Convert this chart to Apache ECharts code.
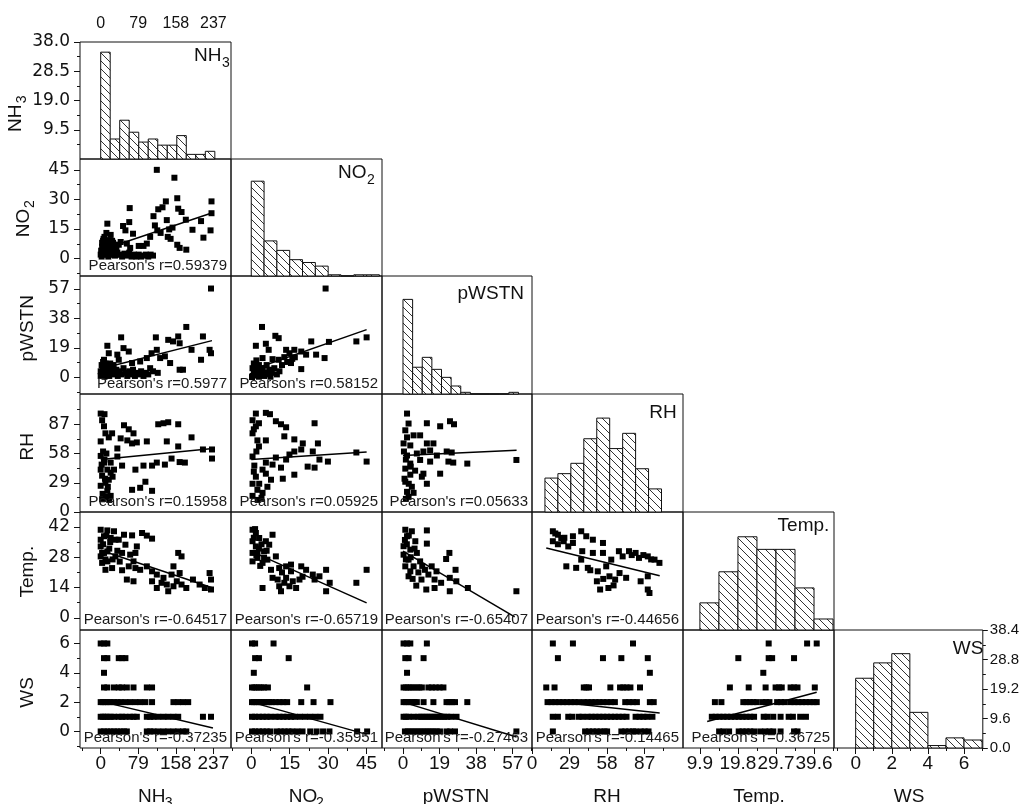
<!DOCTYPE html>
<html><head><meta charset="utf-8">
<script src="https://cdn.jsdelivr.net/npm/echarts@6/dist/echarts.min.js"></script>
<style>html,body{margin:0;padding:0;background:#fff}#c{width:1022px;height:804px}</style>
</head><body><div id="c"></div>
<script>
// ---------------- DATA ----------------
const variableNames = ['NH3','NO2','pWSTN','RH','Temp.','WS'];

// histogram bin edges and heights (percent)
const nh3Edges = [0,20,40,60,80,100,120,140,160,180,200,220,240];
const nh3Hist  = [34.7,6.5,12.6,8.7,5.5,6.5,4.5,4.5,7.6,1.5,1.5,2.5];
const no2Edges = [0,5,10,15,20,25,30,35,40,45,50];
const no2Hist  = [47,17.4,12.7,8.1,6.7,4.9,0.6,0,0.6,0.6];
const pwstnEdges = [0,5,10,15,20,25,30,35,40,45,50,55,60];
const pwstnHist  = [44.9,12.7,17.4,11.7,7.9,3.8,0.8,0,0,0,0,0.8];
const rhEdges = [10,20,30,40,50,60,70,80,90,100];
const rhHist  = [6.9,7.8,9.9,14.9,19.1,12.9,16,8.8,4.7];
const tempEdges = [9.9,14.85,19.8,24.75,29.7,34.65,39.6,44.55];
const tempHist  = [6.9,14.8,23.7,20.5,20.5,10.7,2.8];
const wsEdges = [0,1,2,3,4,5,6,7];
const wsHist  = [22.7,27.7,30.7,11.6,0.8,3.3,2.6];
const histMax = [38,58,56,24,30,38.4];

// scatter points per panel [x, y]
const nh3_no2 = [[118,45],[155,41],[61,25.6],[137,29],[161,30.6],[233,29],[233,23],[111,21.5],[121,25],[130,26],[163,25.3],[170,23.6],[14,17.7],[47,16.5],[60,18.5],[52,14.3],[68,12.6],[139,19.5],[114,16.8],[119,14.3],[126,13],[144,14.8],[151,15.7],[179,19.7],[193,14.6],[211,19],[216,10.6],[231,14.3],[104,11],[97,7.6],[141,11],[147,10],[161,7],[166,5.4],[180,4.5],[21,12],[19,9.3],[42,8.4],[55,7.6],[62,5.4],[80,6.4],[90,6.4],[2,1],[4,3],[6,5],[8,7],[10,2],[12,4],[3,6],[14,8],[16,1],[18,3],[5,9],[20,5],[22,2],[25,6],[8,11],[12,13],[28,4],[30,1.5],[35,3],[40,2],[45,1],[50,2.5],[55,1.5],[60,3],[65,1],[70,2],[75,1],[80,2],[85,1],[90,1.5],[95,2],[100,1],[105,2],[110,1.5],[1,4],[7,2],[15,6],[24,9],[33,5],[38,7],[0,2],[3,8],[6,10],[9,5],[11,9],[13,3],[17,6],[19,2],[23,4],[26,8],[29,7],[32,2]];
const nh3_pwstn = [[232,57.2],[180,32.5],[215,26.4],[43,25.8],[116,25.8],[163,26.4],[142,24.2],[152,23.2],[166,22],[229,17.8],[232,15.6],[191,17.8],[211,11.4],[166,5],[173,5],[146,9.3],[135,13.6],[125,12.5],[118,17.8],[107,15.6],[97,12.5],[83,10.3],[104,6],[14,20.4],[17,15.6],[48,18.9],[59,16.7],[35,14.7],[7,11.4],[38,11.4],[66,9.3],[0,1],[3,3],[6,5],[9,2],[12,7],[15,4],[18,1],[21,6],[24,3],[27,8],[30,2],[33,5],[36,1],[40,4],[44,2],[48,6],[52,3],[56,1],[60,4],[64,2],[68,5],[72,1],[76,3],[80,2],[85,4],[90,1],[95,3],[100,2],[2,8],[5,10],[10,9],[4,6],[8,0.5],[16,2],[20,9],[28,5],[0,4],[110,4],[120,3]];
const no2_pwstn = [[29,57.2],[4.2,32.5],[9.4,26.8],[10.7,25.3],[5.7,21.7],[1.8,20.4],[6.8,17.8],[23.4,23.2],[30.3,22.9],[41,23.2],[45,25.8],[28.6,12.5],[25.3,14.7],[19.5,16.7],[16.8,17.8],[14.9,15.6],[12.9,13.1],[10.7,11.4],[15.5,9.3],[19.5,5.4],[21.4,14.7],[8.3,11.8],[13.6,17.8],[4.4,12.5],[0.5,1],[1,3],[1.5,5],[2,2],[2.5,7],[3,0.5],[3.5,4],[4,2],[4.5,6],[5,1],[5.5,3],[6,8],[6.5,2],[7,5],[7.5,0.5],[8,3],[9,6],[10,2],[11,4],[0.5,6],[1,9],[2,11],[3,8],[12,8],[14,10],[16,12],[17,13],[0.3,0.3],[1.2,1.5]];
const nh3_rh = [[0,97.6],[8,97],[3,91],[7,85],[10,78],[0,70],[17,74],[24,78],[49,86],[59,82],[69,78],[76,69],[66,68],[56,71],[42,73],[35,63],[97,70],[121,87],[132,88],[142,89],[163,87],[191,74],[139,70],[163,65],[215,62],[234,62],[234,53],[177,49],[166,49.5],[149,53],[135,47],[118,49],[108,46],[90,46],[73,42],[45,46],[35,55],[94,30],[83,24],[66,22],[108,21],[0,55.6],[7,49],[14,42],[3,36],[21,39],[10,29],[0,26],[14,21],[21,16],[3,12.6],[28,42],[8,52],[21,49],[0,42],[17,32],[5,60],[12,58],[2,47],[9,33],[15,25],[4,18],[11,15],[18,12],[25,35]];
const no2_rh = [[1.8,97.6],[5.7,98.3],[7.3,97],[0.5,91],[1.8,85],[0.5,78],[2.4,71],[5.7,71],[9.6,90],[11.6,87],[13.6,84],[12.9,75],[16.8,72],[20.1,68],[24.7,88],[26,68],[19.5,62],[16.8,60],[14.9,57],[24,60],[26.6,52],[29.9,50],[41,59],[45,50],[13.6,52],[9.6,54],[8.3,47],[11.6,44],[12.3,33],[7.7,32],[16.8,37],[22,45],[24.7,44],[5.7,49],[4.4,42],[0.5,55],[1.2,46],[1.8,35],[0.5,28],[2.4,22],[0.5,16],[4.4,19],[6.3,25],[3.1,28],[5.7,38],[2,60],[3,65],[1,40],[2.5,12],[4,14],[1,82],[3,88]];
const pwstn_rh = [[2.1,97.6],[2.9,87.7],[12.4,88],[19.3,85],[24.4,90],[26.5,87],[1.2,81],[2.1,74],[5.5,76],[8.9,76],[0.3,68],[3.8,66],[12.4,68],[15.8,68],[14.1,61],[10.6,60],[7.2,58],[2.1,56],[22.7,60],[25.3,59],[17.6,56],[23.6,50],[26.1,49],[33.4,48],[58.9,51.6],[14.1,50],[8.9,51.6],[3.8,48],[1.2,43],[19.3,38],[10.6,38],[3.8,37],[12.4,28],[1.2,30],[4.6,25],[2.1,20],[5.5,19],[2.9,15],[9.8,35],[6.3,41],[0.5,60],[1.5,52],[4,45],[0.8,33],[3,28],[1.5,13]];
const nh3_temp = [[0,40.7],[14,40.4],[28,40],[7,37.7],[21,36.9],[38,36.1],[49,38.4],[66,38.1],[87,39.2],[97,38],[108,36.6],[52,33.8],[76,33],[0,33],[14,30.7],[0,28.4],[3,25.4],[14,26.1],[10,22.2],[24,23],[31,28.4],[45,30],[62,29.2],[73,30],[69,26.1],[55,17.7],[69,16.9],[73,23],[59,23.8],[83,22.2],[97,23.8],[108,21.5],[118,20],[132,18.5],[153,23.8],[163,30],[170,28.4],[166,20.7],[149,20],[160,16.9],[170,15.4],[153,14.6],[142,12.3],[118,13.8],[139,15.4],[180,13.8],[194,17.7],[208,15.4],[229,20.7],[232,17.7],[232,13.1],[219,13.8],[128,16.2],[108,16.9],[31,36.1],[0,36.1],[7,30],[5,34],[18,32],[25,27],[10,27],[35,31],[40,26],[20,35],[3,30],[12,38],[45,22]];
const no2_temp = [[0.5,40.7],[1.8,39.2],[8.3,38.4],[3.1,36.9],[0.5,35.4],[5.7,35.4],[7,33.8],[1.8,33],[5,30.7],[0.5,30],[2.4,27.7],[0.5,26.1],[4.4,25.4],[6.3,26.9],[7.7,22.2],[10.9,23],[13.6,23.8],[15.5,24.6],[19.5,23.8],[21.4,22.2],[15.5,21.5],[13.6,18.5],[10.3,17.7],[8.3,18.5],[4.4,13.8],[10.9,14.6],[11.6,12.3],[14.9,14.6],[17.5,13.8],[18.8,17.7],[24,20],[24.7,17.7],[26.6,19.2],[29.2,22.2],[29.2,12.3],[30.6,16.2],[41,16.2],[45,22.2],[9.6,28.4],[2.4,30],[5,27.7],[12.9,16.2],[16.2,16.9],[1,37],[3,32],[2,29],[4,34],[6,31],[3.5,24],[1.5,41],[12,21],[20,19]];
const pwstn_temp = [[1.2,40.7],[4.6,40],[12.4,40.4],[2.1,37.7],[6.4,35.4],[12.4,34.3],[0.3,33.1],[3.8,31.5],[7.2,30],[0.3,29.2],[2.9,26.9],[24.1,30],[22.4,27.2],[8.9,26.1],[5.5,23.8],[11.4,22.2],[14.9,23.8],[17.4,21.5],[13.2,20],[27.3,22.2],[24.3,18.5],[27.7,16.9],[24.3,12.3],[33.7,13.8],[58.9,12.3],[16.4,13.8],[12.1,13.1],[6.9,14.9],[9.6,17.7],[2.9,19.2],[1.2,23.8],[3.8,21.5],[16.4,17.7],[19.8,16.2],[1,36],[2,34],[4,28],[6,32],[1.5,27],[3,38],[8,21],[10,24],[5,18]];
const rh_temp = [[16.1,40],[20,38.4],[22.6,36.9],[16.1,35.4],[24.5,35.4],[31.6,37.7],[31.6,34.6],[38,40],[41.9,37.7],[47,36.1],[54.8,34.6],[38.8,30.8],[47,30],[54.8,30],[67.1,30.8],[74.9,30.8],[80,30],[82.6,27.7],[89.4,28.4],[94.6,26.9],[98.4,25.4],[70,28.4],[26.5,23.8],[34.1,23.1],[43.1,23.1],[50.8,21.5],[57.3,23.8],[59.8,19.2],[67.6,20.7],[72.7,18.5],[50.1,16.9],[52.6,13.1],[59,13.8],[64.2,17.7],[89.4,19.2],[89.4,13.1],[90.7,11.5],[83.9,16.9],[38,26.9],[61.2,26.9],[18,39],[25,37],[28,33],[20,34],[77,29],[86,29],[92,27],[45,22],[55,18],[63,15]];
const nh3_ws = [[0,6],[7,6],[14,6],[7,5],[14,5],[38,5],[45,5],[52,5],[7,4],[7,3],[14,3],[28,3],[38,3],[45,3],[55,3],[69,3],[97,3],[108,3],[0,2],[5,2],[10,2],[15,2],[21,2],[28,2],[35,2],[42,2],[52,2],[62,2],[73,2],[83,2],[94,2],[108,2],[153,2],[163,2],[173,2],[184,2],[0,1],[5,1],[10,1],[15,1],[21,1],[28,1],[38,1],[45,1],[52,1],[62,1],[69,1],[76,1],[97,1],[104,1],[111,1],[121,1],[132,1],[142,1],[153,1],[163,1],[215,1],[232,1],[0,0],[7,0],[14,0],[21,0],[28,0],[35,0],[42,0],[49,0],[55,0],[97,0],[104,0],[111,0],[121,0],[132,0],[142,0],[153,0],[163,0],[173,0],[180,0]];
const no2_ws = [[0.3,6],[1.5,6],[8.7,6],[1.5,5],[3,5],[14.6,5],[1,4],[0.3,3],[1.2,3],[2,3],[3,3],[4,3],[5,3],[6.5,3],[21.8,3],[0.3,2],[1,2],[2,2],[3,2],[4,2],[5,2],[6,2],[7,2],[8,2],[9.5,2],[11,2],[12.5,2],[14,2],[19.5,2],[24.3,2],[30.9,2],[0.3,1],[1.5,1],[3,1],[4.5,1],[6,1],[7.5,1],[9.5,1],[11,1],[12.5,1],[14,1],[15.5,1],[17,1],[19,1],[21,1],[23,1],[25,1],[27,1],[0.3,0],[1.5,0],[3,0],[4.5,0],[6,0],[7.5,0],[10,0],[11.5,0],[13,0],[14.5,0],[16,0],[18,0],[20,0],[23,0],[25.5,0],[28,0],[30.5,0],[41.3,0],[45.2,0]];
const pwstn_ws = [[0.3,6],[2.1,6],[3.8,6],[12.4,6],[1.2,5],[2.9,5],[10.7,5],[2.1,4],[0.3,3],[1.5,3],[2.8,3],[4,3],[5.5,3],[7,3],[8.5,3],[9.8,3],[13.2,3],[15,3],[17,3],[19,3],[21,3],[0.3,2],[1.5,2],[3,2],[4.5,2],[6,2],[7.2,2],[10.7,2],[15.8,2],[22.6,2],[24,2],[25.5,2],[27,2],[33.4,2],[0.3,1],[1.5,1],[3,1],[5.5,1],[8,1],[9.5,1],[11,1],[12.5,1],[14,1],[15.5,1],[17,1],[18.5,1],[20,1],[21.5,1],[23,1],[25,1],[27.8,1],[1,0],[2.5,0],[4,0],[5.5,0],[7,0],[8.5,0],[10,0],[11.5,0],[13,0],[14.5,0],[16,0],[17.5,0],[19.2,0],[22.6,0],[24.5,0],[27,0],[58.9,0]];
const rh_ws = [[16.1,6],[31.6,6],[78,6],[20,5],[54.8,5],[69,5],[89.4,5],[91,4],[11,3],[17.4,3],[40,3],[42,3],[44,3],[60.5,3],[68,3],[70.5,3],[73,3],[76,3],[83.4,3],[12,2],[15,2],[18,2],[21,2],[24,2],[27,2],[30,2],[33,2],[36,2],[40,2],[43,2],[46,2],[49,2],[52,2],[55,2],[58,2],[61,2],[64,2],[72,2],[75,2],[78,2],[81,2],[91,2],[94,2],[16,1],[20,1],[28,1],[31,1],[36,1],[39,1],[43,1],[46,1],[49,1],[52,1],[55,1],[58,1],[61,1],[64,1],[67,1],[70,1],[73,1],[80,1],[83,1],[86,1],[89,1],[93,1],[16.1,0],[41,0],[44,0],[47,0],[50,0],[53,0],[56,0],[58,0],[69,0],[72,0],[75,0],[78,0],[80,0],[84,0],[87,0],[90,0]];
const temp_ws = [[27.8,6],[37.8,6],[40.3,6],[19.9,5],[27.8,5],[28.7,5],[34.4,5],[26.4,4],[17.7,3],[22.6,3],[27,3],[29.6,3],[30.5,3],[31.2,3],[33.5,3],[34.4,3],[35.3,3],[39.8,3],[13.8,2],[15.5,2],[21.2,2],[22,2],[22.9,2],[23.8,2],[24.7,2],[26.2,2],[27.1,2],[28,2],[30,2],[31,2],[32,2],[33.5,2],[34.5,2],[35.5,2],[36.5,2],[37.5,2],[38.5,2],[39.5,2],[40.3,2],[13,1],[14,1],[15,1],[16,1],[17,1],[18,1],[19,1],[20,1],[21,1],[22,1],[23,1],[24,1],[26.5,1],[27.5,1],[29,1],[30.9,1],[33,1],[34.1,1],[36,1],[37.5,1],[14.9,0],[16,0],[17.5,0],[20,0],[21,0],[22,0],[23,0],[24,0],[25.6,0],[26.9,0],[28,0],[29,0],[30.9,0],[34.4,0],[35.3,0]];

// linear fit end points per panel
const fit_nh3_no2 = [[0,4.2],[235,23.2]];
const fit_nh3_pwstn = [[0,5.6],[234,23.7]];
const fit_no2_pwstn = [[0,4.8],[45,30.8]];
const fit_nh3_rh = [[0,52],[236,63]];
const fit_no2_rh = [[0,52],[45,59.5]];
const fit_pwstn_rh = [[0,56],[59,61.2]];
const fit_nh3_temp = [[0,31.2],[236,13.8]];
const fit_no2_temp = [[0,30.7],[45,6.9]];
const fit_pwstn_temp = [[0,30.8],[58,0.5]];
const fit_rh_temp = [[11,32.3],[98.6,19.5]];
const fit_nh3_ws = [[0,2.05],[236,0.23]];
const fit_no2_ws = [[0,2.0],[45,-0.2]];
const fit_pwstn_ws = [[0,2.0],[59,-0.38]];
const fit_rh_ws = [[11,2.1],[98.6,1.26]];
const fit_temp_ws = [[11.8,0.68],[40.3,2.67]];

const pearsonR = ['0.59379','0.5977','0.58152','0.15958','0.05925','0.05633','-0.64517','-0.65719','-0.65407','-0.44656','-0.37235','-0.35951','-0.27463','-0.14465','0.36725'];

// tick labels
const leftTicks = [[9.5,19,28.5,38],[0,15,30,45],[0,19,38,57],[0,29,58,87],[0,14,28,42],[0,2,4,6]];
const leftMinor = [[4.75,14.25,23.75,33.25],[-7.5,7.5,22.5,37.5],[-9.5,9.5,28.5,47.5],[14.5,43.5,72.5,101.5],[7,21,35],[-1,1,3,5]];
const bottomTicks = [[0,79,158,237],[0,15,30,45],[0,19,38,57],[0,29,58,87],[9.9,19.8,29.7,39.6],[0,2,4,6]];
const bottomMinor = [[-39.5,39.5,118.5,197.5],[-7.5,7.5,22.5,37.5],[-9.5,9.5,28.5,47.5,66.5],[14.5,43.5,72.5,101.5],[14.85,24.75,34.65,44.55],[-1,1,3,5,7]];
const topTicks = [0,79,158,237];
const rightTicks = [0,9.6,19.2,28.8,38.4];
const rightMinor = [4.8,14.4,24,33.6];

// ---------------- LAYOUT ----------------
const colEdges = [80,231,382,532,683,834,985];
const rowEdges = [42,159,276,394,512,630,748];
const xRange = [[-43.5,274],[-7.9,51],[-10.9,67],[0,116.6],[5.5,44.8],[-1.2,7.04]];
const yRange = [[0,38],[-8.85,50.5],[-10.6,65.25],[0,117],[-5.6,48.9],[-1.13,6.92]];
const INK = '#111';

const histEdges = [nh3Edges,no2Edges,pwstnEdges,rhEdges,tempEdges,wsEdges];
const histVals = [nh3Hist,no2Hist,pwstnHist,rhHist,tempHist,wsHist];
const panels = [
  [1,0,nh3_no2,fit_nh3_no2],[2,0,nh3_pwstn,fit_nh3_pwstn],[2,1,no2_pwstn,fit_no2_pwstn],
  [3,0,nh3_rh,fit_nh3_rh],[3,1,no2_rh,fit_no2_rh],[3,2,pwstn_rh,fit_pwstn_rh],
  [4,0,nh3_temp,fit_nh3_temp],[4,1,no2_temp,fit_no2_temp],[4,2,pwstn_temp,fit_pwstn_temp],[4,3,rh_temp,fit_rh_temp],
  [5,0,nh3_ws,fit_nh3_ws],[5,1,no2_ws,fit_no2_ws],[5,2,pwstn_ws,fit_pwstn_ws],[5,3,rh_ws,fit_rh_ws],[5,4,temp_ws,fit_temp_ws]
];

// hatch pattern
const hc = document.createElement('canvas'); hc.width = 8; hc.height = 8;
const hg = hc.getContext('2d');
hg.fillStyle = '#fff'; hg.fillRect(0,0,8,8);
hg.strokeStyle = '#333'; hg.lineWidth = 1;
hg.beginPath(); hg.moveTo(-1,-1); hg.lineTo(9,9); hg.stroke();
const hatch = {image: hc, repeat: 'repeat'};

const grids = [], xAxes = [], yAxes = [], series = [], graphics = [];
function axisBase(gi, rng, pos){
  return {type:'value', gridIndex:gi, min:rng[0], max:rng[1], position:pos, scale:true,
    axisLine:{show:false, onZero:false}, splitLine:{show:false}, axisTick:{show:false}, axisLabel:{show:false}};
}
function labeled(ax, major, size, family, margin, fmt, tickLen){
  ax.axisTick = {show:true, customValues:major, length:tickLen, inside:false, lineStyle:{color:INK, width:1}};
  ax.axisLabel = {show:true, customValues:major, margin, fontSize:size, fontFamily:family, color:INK,
    formatter: fmt || (v => String(v))};
  return ax;
}
function minorAx(ax, minor, len){
  ax.axisTick = {show:true, customValues:minor, length:len, inside:false, lineStyle:{color:INK, width:1}};
  ax.axisLabel = {show:false, customValues:minor};
  return ax;
}

function addCell(r, c){
  const gi = grids.length;
  grids.push({left:colEdges[c], top:rowEdges[r], width:colEdges[c+1]-colEdges[c], height:rowEdges[r+1]-rowEdges[r],
    show:true, borderColor:INK, borderWidth:1, backgroundColor:'transparent', containLabel:false});
  const isDiag = r === c;
  const yr = isDiag ? [0, histMax[r]] : yRange[r];
  let xa = axisBase(gi, xRange[c], (r===0 && c===0) ? 'top' : 'bottom');
  if (r === 5) labeled(xa, bottomTicks[c], 19, 'Liberation Sans, Arial, sans-serif', 6, null, 6);
  if (r === 0 && c === 0) {
    xa.axisLabel = {show:true, customValues:topTicks, margin:10, fontSize:16, fontFamily:'Liberation Sans, Arial, sans-serif', color:INK};
    xa.axisTick = {show:false, customValues:topTicks};
  }
  const xi = xAxes.length; xAxes.push(xa);
  if (r === 5) xAxes.push(minorAx(axisBase(gi, xRange[c], 'bottom'), bottomMinor[c], 3));
  let ya = axisBase(gi, yr, (r===5 && c===5) ? 'right' : 'left');
  if (c === 0) labeled(ya, leftTicks[r], 17, 'DejaVu Sans, sans-serif', 10, r===0 ? (v => v.toFixed(1)) : null, 6);
  if (r === 5 && c === 5) labeled(ya, rightTicks, 15, 'Liberation Sans, Arial, sans-serif', 7, v => v.toFixed(1), 5);
  const yi = yAxes.length; yAxes.push(ya);
  if (c === 0) yAxes.push(minorAx(axisBase(gi, yr, 'left'), leftMinor[r], 3));
  if (r === 5 && c === 5) yAxes.push(minorAx(axisBase(gi, yr, 'right'), rightMinor, 3));
  return {xi, yi};
}

// diagonal histograms
for (let k = 0; k < 6; k++) {
  const {xi, yi} = addCell(k, k);
  const e = histEdges[k], v = histVals[k];
  const data = v.map((h, i) => [e[i], e[i+1], h]);
  series.push({type:'custom', xAxisIndex:xi, yAxisIndex:yi, data, silent:true,
    encode:{x:[0,1], y:2},
    renderItem: (params, api) => {
      const p0 = api.coord([api.value(0), api.value(2)]);
      const p1 = api.coord([api.value(1), 0]);
      return {type:'rect', shape:{x:p0[0], y:p0[1], width:p1[0]-p0[0], height:p1[1]-p0[1]},
        style:{fill:hatch, stroke:INK, lineWidth:1}};
    }});
}

// scatter panels
panels.forEach((p, idx) => {
  const [r, c, pts, fit] = p;
  const {xi, yi} = addCell(r, c);
  series.push({type:'scatter', xAxisIndex:xi, yAxisIndex:yi, data:pts, symbol:'rect', symbolSize:6,
    itemStyle:{color:'#000', opacity:1}, silent:true, clip:true});
  series.push({type:'line', xAxisIndex:xi, yAxisIndex:yi, data:fit, symbol:'none', silent:true,
    lineStyle:{color:'#000', width:1.5}, z:3});
  graphics.push({type:'text', x:colEdges[c+1]-4, y:rowEdges[r+1]-3, z:100, silent:true,
    style:{text:"Pearson's r=" + pearsonR[idx], fontSize:15, fontFamily:'Liberation Sans, Arial, sans-serif',
      fill:'#1a1a1a', align:'right', verticalAlign:'bottom', textAlign:'right', textVerticalAlign:'bottom'}});
});

const FF = 'Liberation Sans, Arial, sans-serif';
function T(x, y, text, size, align, valign, rot){
  return {type:'text', x, y, rotation:rot||0, z:100, silent:true,
    style:{text, fontSize:size, fontFamily:FF, fill:INK, align, verticalAlign:valign, textAlign:align, textVerticalAlign:valign}};
}
// diagonal titles: [main, sub, rightX, capTop]
const diagTitles = [['NH','3',221.5,49.3],['NO','2',366.5,166.3],['pWSTN','',524,286.7],['RH','',676.7,406],['Temp.','',829.3,518.7],['WS','',983.3,641.7]];
diagTitles.forEach(t => {
  graphics.push(T(t[2], t[3]+6.8, t[0], 19, 'right', 'middle'));
  if (t[1]) graphics.push(T(t[2]+0.5, t[3]+13.5, t[1], 14, 'left', 'middle'));
});
// left axis names (rotated)
const leftNames = [['NH','3',16,118.3],['NO','2',24,223],['pWSTN','',28,328.3],['RH','',28,446.7],['Temp.','',27.5,571.7],['WS','',27.5,692.5]];
leftNames.forEach(t => {
  graphics.push(T(t[2], t[3], t[0], 19, 'center', 'middle', Math.PI/2));
  if (t[1]) graphics.push(T(t[2]+6.5, t[3]-19, t[1], 14, 'center', 'middle', Math.PI/2));
});
// bottom axis names
const bottomNames = [['NH','3',151.7],['NO','2',303],['pWSTN','',456],['RH','',607],['Temp.','',759],['WS','',909]];
bottomNames.forEach(t => {
  graphics.push(T(t[2], 797, t[0], 19, 'center', 'middle'));
  if (t[1]) graphics.push(T(t[2]+17, 803.5, t[1], 14, 'center', 'middle'));
});

const chart = echarts.init(document.getElementById('c'), null, {renderer:'canvas'});
chart.setOption({
  animation:false,
  backgroundColor:'#fff',
  grid:grids, xAxis:xAxes, yAxis:yAxes, series, graphic:graphics
});
</script></body></html>
